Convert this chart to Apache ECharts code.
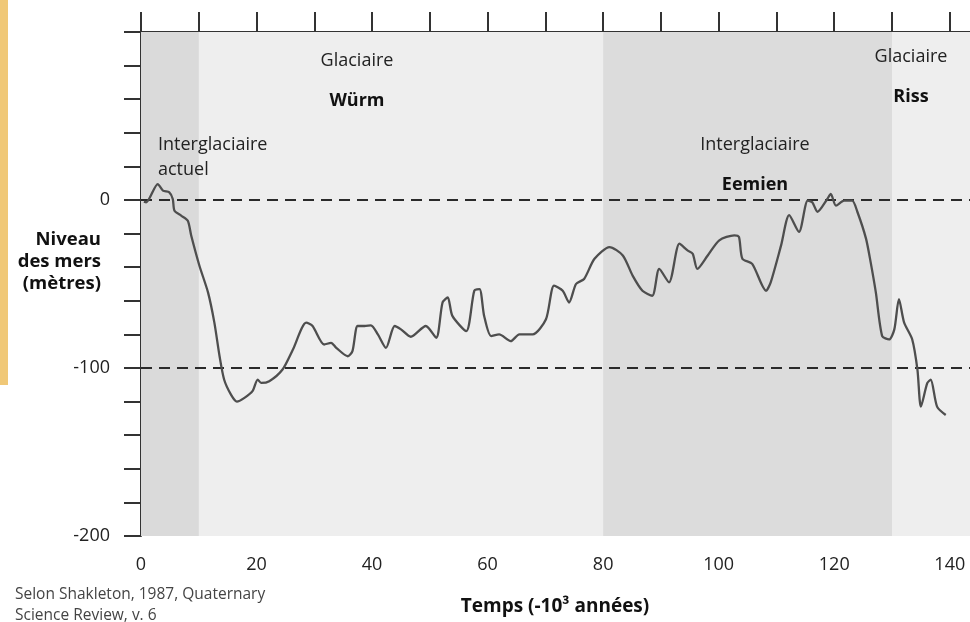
<!DOCTYPE html>
<html><head><meta charset="utf-8">
<script src="https://cdn.jsdelivr.net/npm/echarts@6/dist/echarts.min.js"></script>
<style>html,body{margin:0;padding:0;background:#fff}#c{width:970px;height:622px}</style>
</head><body><div id="c"></div>
<script>
// Data (thousand years before present, sea level in metres)
var years = [0.5, 0.9, 2.9, 3.8, 4.9, 5.5, 5.8, 7.0, 8.1, 8.7, 10.1, 11.6, 12.7, 13.6, 14.4, 15.6, 16.6, 17.9, 19.3, 20.2, 20.8, 22.2, 24.5, 26.3, 28.6, 29.7, 31.7, 32.9, 33.8, 35.8, 36.6, 37.5, 38.7, 39.8, 41.0, 42.4, 43.9, 45.0, 46.7, 49.3, 51.1, 52.2, 53.1, 53.9, 56.3, 57.7, 58.6, 59.4, 60.6, 62.0, 64.0, 65.5, 67.8, 70.1, 71.5, 73.0, 74.1, 75.3, 76.7, 78.5, 81.1, 83.4, 85.1, 86.8, 88.5, 89.7, 91.4, 93.2, 94.6, 95.5, 96.3, 98.1, 100.1, 102.7, 103.5, 104.1, 105.8, 108.2, 109.0, 110.8, 112.2, 113.9, 115.4, 116.2, 117.1, 118.8, 119.4, 120.3, 121.7, 123.1, 124.0, 125.5, 126.3, 127.2, 128.3, 129.5, 130.4, 131.2, 132.1, 133.5, 134.4, 135.0, 136.1, 136.7, 137.8, 139.3];
var seaLevel = [-1, -1.4, 9.5, 5.6, 4.6, 0.6, -6.4, -9.4, -12.4, -21.3, -39, -55, -73, -93, -107, -116, -120, -117.8, -113.8, -106.9, -108.9, -107.9, -100.9, -89, -73, -75, -86, -85, -88, -93, -90, -75, -75, -74.6, -80, -88, -75, -77, -81.4, -75, -82, -61, -58, -69, -78, -54, -53, -69, -81, -80, -84, -80, -80, -71, -51, -54, -61, -50, -47, -35, -28, -33, -45, -54, -57, -41, -49, -26, -30, -32, -41, -33, -24, -21, -22, -35, -38, -54, -49, -27, -9, -19, -0.4, -1.4, -7, 0.6, 3.6, -3.4, -0.4, -0.4, -7, -23, -37, -55, -81, -83, -77, -59, -73, -83, -101, -123, -109, -107, -123, -128];
var xTicks = [0, 10, 20, 30, 40, 50, 60, 70, 80, 90, 100, 110, 120, 130, 140];
var xLabels = [0, 20, 40, 60, 80, 100, 120, 140];
var yLabels = [0, -100, -200];
var refLevels = [0, -100];
// base light band first, darker periods drawn over it
var periods = [
  {from: 0, to: 143.5, color: '#eeeeee'},
  {from: 0, to: 10, color: '#dadada'},
  {from: 80, to: 130, color: '#dcdcdc'}
];

var FONT = 'Open Sans, Noto Sans, sans-serif';
var chart = echarts.init(document.getElementById('c'), null, {renderer: 'canvas'});
var pts = years.map(function (y, i) { return [y, seaLevel[i]]; });

var axisCommon = {
  type: 'value', min: 0, max: 143.5,
  axisLine: {show: true, lineStyle: {color: '#333', width: 2}},
  splitLine: {show: false}
};

function txt(x, y, s, bold, align, size, extra) {
  var st = {text: s, font: (bold ? 'bold ' : '') + (size || 18) + 'px ' + FONT, fill: bold ? '#111' : '#222',
            textAlign: align || 'center', textVerticalAlign: 'middle'};
  if (extra) Object.assign(st, extra);
  return {type: 'text', x: x, y: y, z: 100, zlevel: 1, style: st};
}

chart.setOption({
  animation: false,
  grid: {left: 141, right: 0, top: 32, bottom: 86},
  xAxis: [
    Object.assign({}, axisCommon, {
      position: 'bottom',
      axisTick: {show: true, customValues: xTicks, length: 19, lineStyle: {color: '#333', width: 2}},
      axisLabel: {customValues: xLabels, margin: 20, fontSize: 18, color: '#222', fontFamily: FONT}
    }),
    Object.assign({}, axisCommon, {
      position: 'top',
      axisTick: {show: true, customValues: xTicks, length: 20, lineStyle: {color: '#333', width: 2}},
      axisLabel: {show: false}
    })
  ],
  yAxis: {
    type: 'value', min: -200, max: 100, interval: 20,
    axisLine: {show: true, lineStyle: {color: '#333', width: 2}},
    axisTick: {show: true, length: 17, lineStyle: {color: '#333', width: 2}},
    axisLabel: {customValues: yLabels, margin: 31, fontSize: 18, color: '#222', fontFamily: FONT},
    splitLine: {show: false}
  },
  series: [{
    type: 'line',
    data: pts,
    smooth: 0.25,
    symbol: 'none',
    lineStyle: {color: '#4e4e4e', width: 2.3},
    z: 5,
    markArea: {
      silent: true,
      data: periods.map(function (p) {
        return [{xAxis: p.from, itemStyle: {color: p.color}}, {xAxis: p.to}];
      })
    },
    markLine: {
      silent: true,
      symbol: 'none',
      label: {show: false},
      lineStyle: {color: '#2a2a2a', width: 2, type: [11, 7]},
      data: refLevels.map(function (v) { return {yAxis: v}; })
    }
  }],
  graphic: [
    {type: 'rect', left: 0, top: 0, shape: {width: 8, height: 385}, style: {fill: '#f0c877'}},
    txt(357, 61, 'Glaciaire', false),
    txt(357, 101, 'Würm', true),
    txt(158, 145, 'Interglaciaire', false, 'left'),
    txt(158, 170, 'actuel', false, 'left'),
    txt(755, 145, 'Interglaciaire', false),
    txt(755, 185, 'Eemien', true),
    txt(911, 57, 'Glaciaire', false),
    txt(911, 97, 'Riss', true),
    txt(101, 262, 'Niveau\ndes mers\n(mètres)', true, 'right', 18.5, {lineHeight: 22}),
    txt(555, 607, 'Temps (-10³ années)', true, 'center', 19),
    txt(15, 595, 'Selon Shakleton, 1987, Quaternary', false, 'left', 15.5, {fill: '#444'}),
    txt(15, 616, 'Science Review, v. 6', false, 'left', 15.5, {fill: '#444'})
  ]
});
</script></body></html>
